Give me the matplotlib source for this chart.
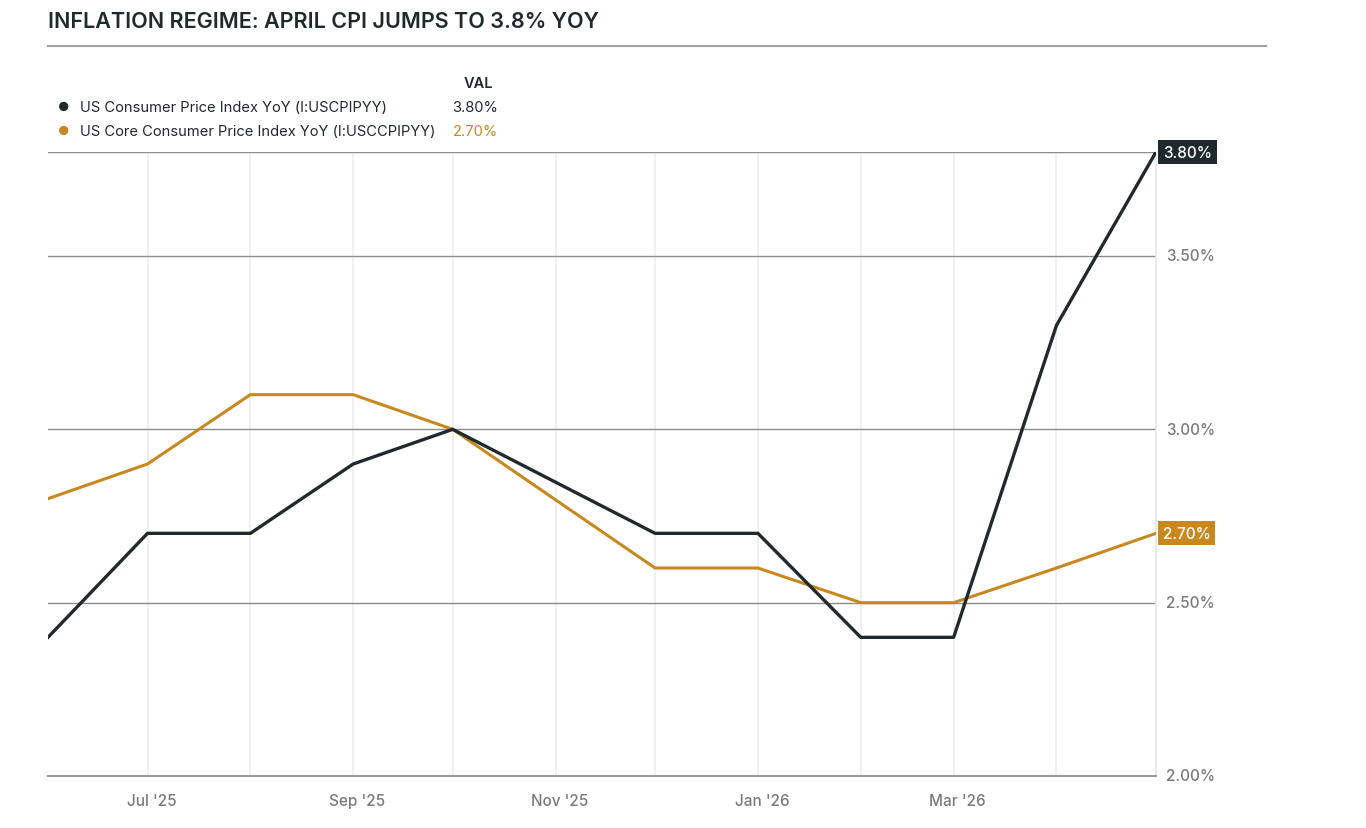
import pandas as pd
import numpy as np
import matplotlib.pyplot as plt
import matplotlib.dates as mdates
import matplotlib.transforms as mtransforms

# month-end readings, plotted at the start of the next month (Oct '25 not published)
dates = pd.to_datetime(['2025-06-01', '2025-07-01', '2025-08-01', '2025-09-01', '2025-10-01',
                        '2025-12-01', '2026-01-01', '2026-02-01', '2026-03-01', '2026-04-01', '2026-05-01'])
cpi = [2.4, 2.7, 2.7, 2.9, 3.0, 2.7, 2.7, 2.4, 2.4, 3.3, 3.8]
core_cpi = [2.8, 2.9, 3.1, 3.1, 3.0, 2.6, 2.6, 2.5, 2.5, 2.6, 2.7]
names = ['US Consumer Price Index YoY (I:USCPIPYY)', 'US Core Consumer Price Index YoY (I:USCCPIPYY)']
yticks = [2.0, 2.5, 3.0, 3.5]

DARK = '#1f2a2e'
ORANGE = '#c8881e'
GRAY = '#7a7a7a'

plt.rcParams['font.family'] = ['Inter', 'DejaVu Sans']

fig = plt.figure(figsize=(13.66, 8.29), dpi=100)
ax = fig.add_axes([48 / 1366, 1 - 777 / 829, (1156 - 48) / 1366, (777 - 153) / 829])

ax.set_xlim(pd.Timestamp('2025-06-01'), pd.Timestamp('2026-05-01'))
ax.set_ylim(2.0, 3.8)

# vertical month grid
for d in pd.date_range('2025-07-01', '2026-04-01', freq='MS'):
    ax.axvline(d, color='#ededed', lw=1.2, zorder=0)
# horizontal grid
for y in yticks[1:] + [3.8]:
    ax.axhline(y, color='#8c8c8c', lw=1.0, zorder=1)

ax.plot(dates, core_cpi, color=ORANGE, lw=2.2, zorder=3)
ax.plot(dates, cpi, color=DARK, lw=2.4, zorder=4)

for s in ['top', 'left']:
    ax.spines[s].set_visible(False)
ax.spines['bottom'].set_color('#9a9a9a')
ax.spines['bottom'].set_linewidth(1.5)
ax.spines['right'].set_color('#e6e6e6')
ax.spines['right'].set_linewidth(1.2)

ax.yaxis.tick_right()
ax.set_yticks(yticks)
ax.set_yticklabels([f'{v:.2f}%' for v in yticks])
ax.tick_params(axis='y', length=0, pad=7, labelsize=11, labelcolor=GRAY)
for lbl in ax.get_yticklabels():
    lbl.set_verticalalignment('center')
    lbl.set_fontweight('medium')

ax.xaxis.set_major_locator(mdates.MonthLocator(bymonth=[1, 3, 7, 9, 11]))
ax.xaxis.set_major_formatter(mdates.DateFormatter("%b '%y"))
ax.tick_params(axis='x', length=0, pad=12, labelsize=11, labelcolor=GRAY)
shift = mtransforms.ScaledTranslation(4 / 100, 0, fig.dpi_scale_trans)
for lbl in ax.get_xticklabels():
    lbl.set_fontweight('medium')
    lbl.set_transform(lbl.get_transform() + shift)

# last value tags
for vals, col in [(cpi, DARK), (core_cpi, ORANGE)]:
    ax.annotate(f'{vals[-1]:.2f}%', xy=(1.0, vals[-1]), xycoords=('axes fraction', 'data'),
                xytext=(5, 0), textcoords='offset points', va='center', ha='left',
                fontsize=11, color='white', fontweight='medium',
                bbox=dict(boxstyle='square,pad=0.3', fc=col, ec='none'), zorder=6)

# title and rule
fig.text(48 / 1366, 1 - 22 / 829, 'INFLATION REGIME: APRIL CPI JUMPS TO 3.8% YOY',
         fontsize=15.5, fontweight='semibold', color=DARK, va='center', ha='left')
fig.add_artist(plt.Line2D([48 / 1366, 1266 / 1366], [1 - 46.5 / 829, 1 - 46.5 / 829],
                          color='#a0a0a0', lw=1.5))

# legend table
fig.text(493 / 1366, 1 - 84 / 829, 'VAL', fontsize=10.5, fontweight='semibold',
         color=DARK, ha='right', va='center')
for i, (nm, vals, col) in enumerate([(names[0], cpi, DARK), (names[1], core_cpi, ORANGE)]):
    y = 1 - (108 + 24 * i) / 829
    fig.text(64 / 1366, y, '\u25CF', fontsize=9, color=col, ha='center', va='center')
    fig.text(80 / 1366, y, nm, fontsize=10.6, color=DARK, ha='left', va='center')
    fig.text(498 / 1366, y, f'{vals[-1]:.2f}%', fontsize=10.6,
             color=DARK if i == 0 else ORANGE, ha='right', va='center')

fig.savefig('out.png', dpi=100)
